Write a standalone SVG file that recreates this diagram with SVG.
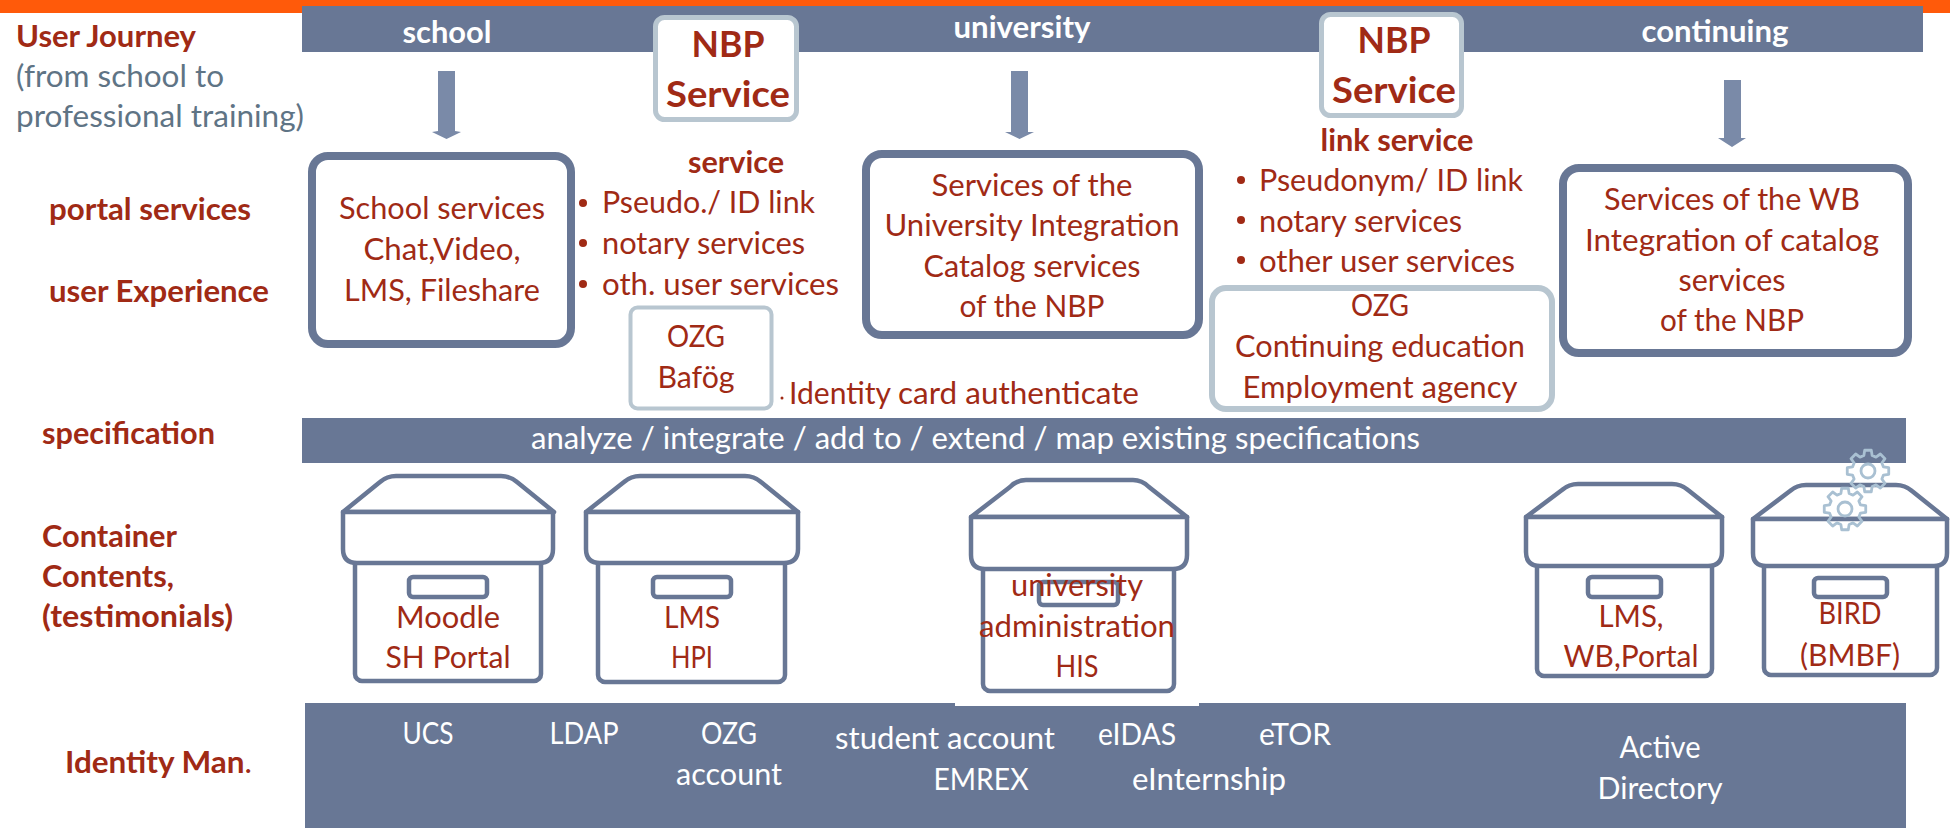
<svg xmlns="http://www.w3.org/2000/svg" width="1950" height="828" viewBox="0 0 1950 828">
<style>
text{font-family:Lato,"Open Sans","Liberation Sans",sans-serif;font-size:31px;fill:#a02a15}
.b{font-weight:700}
.w{fill:#fff}
.g{fill:#5f7485}
.m{text-anchor:middle}
.big{font-size:37px;font-weight:700}
.bar{fill:#687795}
.frame{fill:#fff;stroke:#687795;stroke-width:8}
.soft{fill:#fff;stroke:#b8c6d0;stroke-width:5}
.arrow{fill:#7a8aa8}
.box{fill:#fff;stroke:#687795;stroke-width:4.500;stroke-linejoin:round}
.gear{fill:none;stroke:#a9c0d2;stroke-width:2.800;stroke-linejoin:round}
</style>
<defs>
<g id="gearShape">
<polygon class="gear" points="20.74,3.29 15.45,4.14 13.86,8 16.99,12.34 12.34,16.99 8,13.86 4.14,15.45 3.29,20.74 -3.29,20.74 -4.14,15.45 -8,13.86 -12.34,16.99 -16.99,12.34 -13.86,8 -15.45,4.14 -20.74,3.29 -20.74,-3.29 -15.45,-4.14 -13.86,-8 -16.99,-12.34 -12.34,-16.99 -8,-13.86 -4.14,-15.45 -3.29,-20.74 3.29,-20.74 4.14,-15.45 8,-13.86 12.34,-16.99 16.99,-12.34 13.86,-8 15.45,-4.14 20.74,-3.29"/>
<circle class="gear" r="7"/>
</g>
</defs>
<rect width="1950" height="828" fill="#fff"/>
<rect id="top-orange" x="0" y="0" width="1950" height="13" fill="#ff5a0a"/>

<g id="labels">
<text class="b" x="16" y="47" textLength="180" lengthAdjust="spacingAndGlyphs">User Journey</text>
<text class="g" x="16" y="87" textLength="208" lengthAdjust="spacingAndGlyphs">(from school to</text>
<text class="g" x="16" y="127" textLength="288" lengthAdjust="spacingAndGlyphs">professional training)</text>
<text class="b" x="49" y="220" textLength="202" lengthAdjust="spacingAndGlyphs">portal services</text>
<text class="b" x="49" y="302" textLength="220" lengthAdjust="spacingAndGlyphs">user Experience</text>
<text class="b" x="42" y="444" textLength="173" lengthAdjust="spacingAndGlyphs">specification</text>
<text class="b" x="42" y="547" textLength="135" lengthAdjust="spacingAndGlyphs">Container</text>
<text class="b" x="42" y="587" textLength="132" lengthAdjust="spacingAndGlyphs">Contents,</text>
<text class="b" x="42" y="627" textLength="191" lengthAdjust="spacingAndGlyphs">(testimonials)</text>
<text x="65" y="773" textLength="187" lengthAdjust="spacingAndGlyphs"><tspan class="b">Identity Man</tspan>.</text>
</g>

<g id="journey-bar">
<rect class="bar" x="302" y="6" width="1621" height="46"/>
<text class="w b m" x="447" y="43" textLength="89" lengthAdjust="spacingAndGlyphs">school</text>
<text class="w b m" x="1022" y="38" textLength="137" lengthAdjust="spacingAndGlyphs">university</text>
<text class="w b m" x="1715" y="42" textLength="147" lengthAdjust="spacingAndGlyphs">continuing</text>
</g>

<g id="connectors">
<polygon class="arrow" points="438,71 455,71 455,131 461,132 446.500,139 432,132 438,131"/>
<polygon class="arrow" points="1011,71 1028,71 1028,132 1034,132 1019.500,139 1005,132 1011,132"/>
<polygon class="arrow" points="1724,80 1741,80 1741,138 1746,138 1732,147 1718,138 1724,138"/>
</g>

<g id="nbp-service-1">
<rect class="soft" x="655.500" y="17.500" width="141" height="102" rx="9"/>
<text class="big m" x="728" y="57" textLength="73" lengthAdjust="spacingAndGlyphs">NBP</text>
<text class="big m" x="728" y="107" textLength="124" lengthAdjust="spacingAndGlyphs">Service</text>
</g>
<g id="nbp-service-2">
<rect class="soft" x="1321.500" y="14.500" width="140" height="101" rx="9"/>
<text class="big m" x="1394" y="53" textLength="73" lengthAdjust="spacingAndGlyphs">NBP</text>
<text class="big m" x="1394" y="103" textLength="124" lengthAdjust="spacingAndGlyphs">Service</text>
</g>

<g id="school-services">
<rect class="frame" x="312" y="156" width="259" height="188" rx="16"/>
<text class="m" x="442" y="219" textLength="206" lengthAdjust="spacingAndGlyphs">School services</text>
<text class="m" x="442" y="260" textLength="157" lengthAdjust="spacingAndGlyphs">Chat,Video,</text>
<text class="m" x="442" y="301" textLength="196" lengthAdjust="spacingAndGlyphs">LMS, Fileshare</text>
</g>

<g id="service-list">
<text class="b m" x="736" y="173" textLength="96" lengthAdjust="spacingAndGlyphs">service</text>
<circle cx="583" cy="203" r="4" fill="#a02a15"/>
<circle cx="583" cy="243" r="4" fill="#a02a15"/>
<circle cx="583" cy="284" r="4" fill="#a02a15"/>
<text x="602" y="213" textLength="213" lengthAdjust="spacingAndGlyphs">Pseudo./ ID link</text>
<text x="602" y="254" textLength="203" lengthAdjust="spacingAndGlyphs">notary services</text>
<text x="602" y="295" textLength="237" lengthAdjust="spacingAndGlyphs">oth. user services</text>
</g>

<g id="ozg-bafoeg">
<rect class="soft" x="630.500" y="307.500" width="141" height="101" rx="7" style="stroke-width:4"/>
<text class="m" x="696" y="347" textLength="58" lengthAdjust="spacingAndGlyphs">OZG</text>
<text class="m" x="696" y="388" textLength="77" lengthAdjust="spacingAndGlyphs">Bafög</text>
</g>

<g id="identity-card">
<circle cx="782" cy="398" r="1.500" fill="#a02a15"/>
<text y="404"><tspan x="789" textLength="102" lengthAdjust="spacingAndGlyphs">Identity</tspan><tspan x="898" textLength="241" lengthAdjust="spacingAndGlyphs">card authenticate</tspan></text>
</g>

<g id="university-services">
<rect class="frame" x="866" y="154" width="333" height="181" rx="16"/>
<text class="m" x="1032" y="196" textLength="201" lengthAdjust="spacingAndGlyphs">Services of the</text>
<text class="m" x="1032" y="236" textLength="295" lengthAdjust="spacingAndGlyphs">University Integration</text>
<text class="m" x="1032" y="277" textLength="217" lengthAdjust="spacingAndGlyphs">Catalog services</text>
<text class="m" x="1032" y="317" textLength="145" lengthAdjust="spacingAndGlyphs">of the NBP</text>
</g>

<g id="link-service-list">
<text class="b m" x="1397" y="151" textLength="153" lengthAdjust="spacingAndGlyphs">link service</text>
<circle cx="1241" cy="180" r="4" fill="#a02a15"/>
<circle cx="1241" cy="220" r="4" fill="#a02a15"/>
<circle cx="1241" cy="260" r="4" fill="#a02a15"/>
<text x="1259" y="191" textLength="264" lengthAdjust="spacingAndGlyphs">Pseudonym/ ID link</text>
<text x="1259" y="232" textLength="203" lengthAdjust="spacingAndGlyphs">notary services</text>
<text x="1259" y="272" textLength="256" lengthAdjust="spacingAndGlyphs">other user services</text>
</g>

<g id="ozg-continuing">
<rect class="soft" x="1212" y="288" width="340" height="121" rx="14" style="stroke-width:6"/>
<text class="m" x="1380" y="316" textLength="58" lengthAdjust="spacingAndGlyphs">OZG</text>
<text class="m" x="1380" y="357" textLength="290" lengthAdjust="spacingAndGlyphs">Continuing education</text>
<text class="m" x="1380" y="398" textLength="275" lengthAdjust="spacingAndGlyphs">Employment agency</text>
</g>

<g id="wb-services">
<rect class="frame" x="1563" y="168" width="345" height="185" rx="16"/>
<text class="m" x="1732" y="210" textLength="256" lengthAdjust="spacingAndGlyphs">Services of the WB</text>
<text class="m" x="1732" y="251" textLength="294" lengthAdjust="spacingAndGlyphs">Integration of catalog</text>
<text class="m" x="1732" y="291" textLength="107" lengthAdjust="spacingAndGlyphs">services</text>
<text class="m" x="1732" y="331" textLength="144" lengthAdjust="spacingAndGlyphs">of the NBP</text>
</g>

<g id="specification-bar">
<rect class="bar" x="302" y="418" width="1604" height="45"/>
<text class="w" x="531" y="449" textLength="889" lengthAdjust="spacingAndGlyphs">analyze / integrate / add to / extend / map existing specifications</text>
</g>

<g id="identity-bar">
<rect class="bar" x="305" y="703" width="1601" height="125"/>
<text class="w m" x="428" y="744" textLength="51" lengthAdjust="spacingAndGlyphs">UCS</text>
<text class="w m" x="584" y="744" textLength="69" lengthAdjust="spacingAndGlyphs">LDAP</text>
<text class="w m" x="729" y="744" textLength="56" lengthAdjust="spacingAndGlyphs">OZG</text>
<text class="w m" x="729" y="785" textLength="106" lengthAdjust="spacingAndGlyphs">account</text>
<text class="w" x="835" y="749" textLength="220" lengthAdjust="spacingAndGlyphs">student account</text>
<text class="w m" x="981" y="790" textLength="95" lengthAdjust="spacingAndGlyphs">EMREX</text>
<text class="w" x="1098" y="745" textLength="78" lengthAdjust="spacingAndGlyphs">eIDAS</text>
<text class="w" x="1259" y="745" textLength="72" lengthAdjust="spacingAndGlyphs">eTOR</text>
<text class="w" x="1132" y="790" textLength="154" lengthAdjust="spacingAndGlyphs">eInternship</text>
<text class="w m" x="1660" y="758" textLength="81" lengthAdjust="spacingAndGlyphs">Active</text>
<text class="w m" x="1660" y="799" textLength="125" lengthAdjust="spacingAndGlyphs">Directory</text>
</g>

<g id="container-moodle">
<rect class="box" x="355" y="555" width="186" height="126" rx="7"/>
<path class="box" d="M343 512 L380 482 Q387 476 396 476 L501 476 Q510 476 517 482 L554 512 Z"/>
<path class="box" d="M343 512 H553 V549 Q553 563 539 563 H357 Q343 563 343 549 Z"/>
<rect class="box" x="409" y="577" width="78" height="20" rx="4"/>
<text class="m" x="448" y="628" textLength="104" lengthAdjust="spacingAndGlyphs">Moodle</text>
<text class="m" x="448" y="668" textLength="125" lengthAdjust="spacingAndGlyphs">SH Portal</text>
</g>

<g id="container-lms-hpi">
<rect class="box" x="598" y="555" width="187" height="127" rx="7"/>
<path class="box" d="M586 512 L624 482 Q631 476 640 476 L745 476 Q754 476 761 482 L798 512 Z"/>
<path class="box" d="M586 512 H798 V549 Q798 563 784 563 H600 Q586 563 586 549 Z"/>
<rect class="box" x="653" y="577" width="78" height="20" rx="4"/>
<text class="m" x="692" y="628" textLength="56" lengthAdjust="spacingAndGlyphs">LMS</text>
<text class="m" x="692" y="668" textLength="42" lengthAdjust="spacingAndGlyphs">HPI</text>
</g>

<g id="container-university">
<rect x="955" y="690" width="244" height="16" fill="#fff"/>
<rect class="box" x="983" y="560" width="191" height="131" rx="7"/>
<path class="box" d="M971 517 L1010 487 Q1017 480 1026 480 L1133 480 Q1142 480 1149 487 L1187 517 Z"/>
<path class="box" d="M971 517 H1187 V555 Q1187 569 1173 569 H985 Q971 569 971 555 Z"/>
<rect class="box" x="1039" y="582" width="79" height="23" rx="4"/>
<text class="m" x="1077" y="596" textLength="132" lengthAdjust="spacingAndGlyphs">university</text>
<text class="m" x="1077" y="637" textLength="196" lengthAdjust="spacingAndGlyphs">administration</text>
<text class="m" x="1077" y="677" textLength="43" lengthAdjust="spacingAndGlyphs">HIS</text>
</g>

<g id="container-lms-wb">
<rect class="box" x="1537" y="555" width="175" height="121" rx="7"/>
<path class="box" d="M1526 517 L1562 490 Q1569 484 1578 484 L1672 484 Q1681 484 1688 490 L1722 517 Z"/>
<path class="box" d="M1526 517 H1722 V552 Q1722 566 1708 566 H1540 Q1526 566 1526 552 Z"/>
<rect class="box" x="1588" y="577" width="73" height="20" rx="4"/>
<text class="m" x="1631" y="627" textLength="65" lengthAdjust="spacingAndGlyphs">LMS,</text>
<text class="m" x="1631" y="667" textLength="135" lengthAdjust="spacingAndGlyphs">WB,Portal</text>
</g>

<g id="container-bird">
<rect class="box" x="1764" y="555" width="173" height="120" rx="7"/>
<path class="box" d="M1753 519 L1790 491 Q1797 485 1806 485 L1896 485 Q1905 485 1912 491 L1947 519 Z"/>
<path class="box" d="M1753 519 H1947 V553 Q1947 566 1934 566 H1766 Q1753 566 1753 553 Z"/>
<rect class="box" x="1814" y="578" width="73" height="19" rx="4"/>
<text class="m" x="1850" y="624" textLength="63" lengthAdjust="spacingAndGlyphs">BIRD</text>
<text class="m" x="1850" y="666" textLength="100" lengthAdjust="spacingAndGlyphs">(BMBF)</text>
</g>

<g id="gears">
<use href="#gearShape" x="1868" y="471"/>
<use href="#gearShape" x="1845" y="509"/>
</g>
</svg>
